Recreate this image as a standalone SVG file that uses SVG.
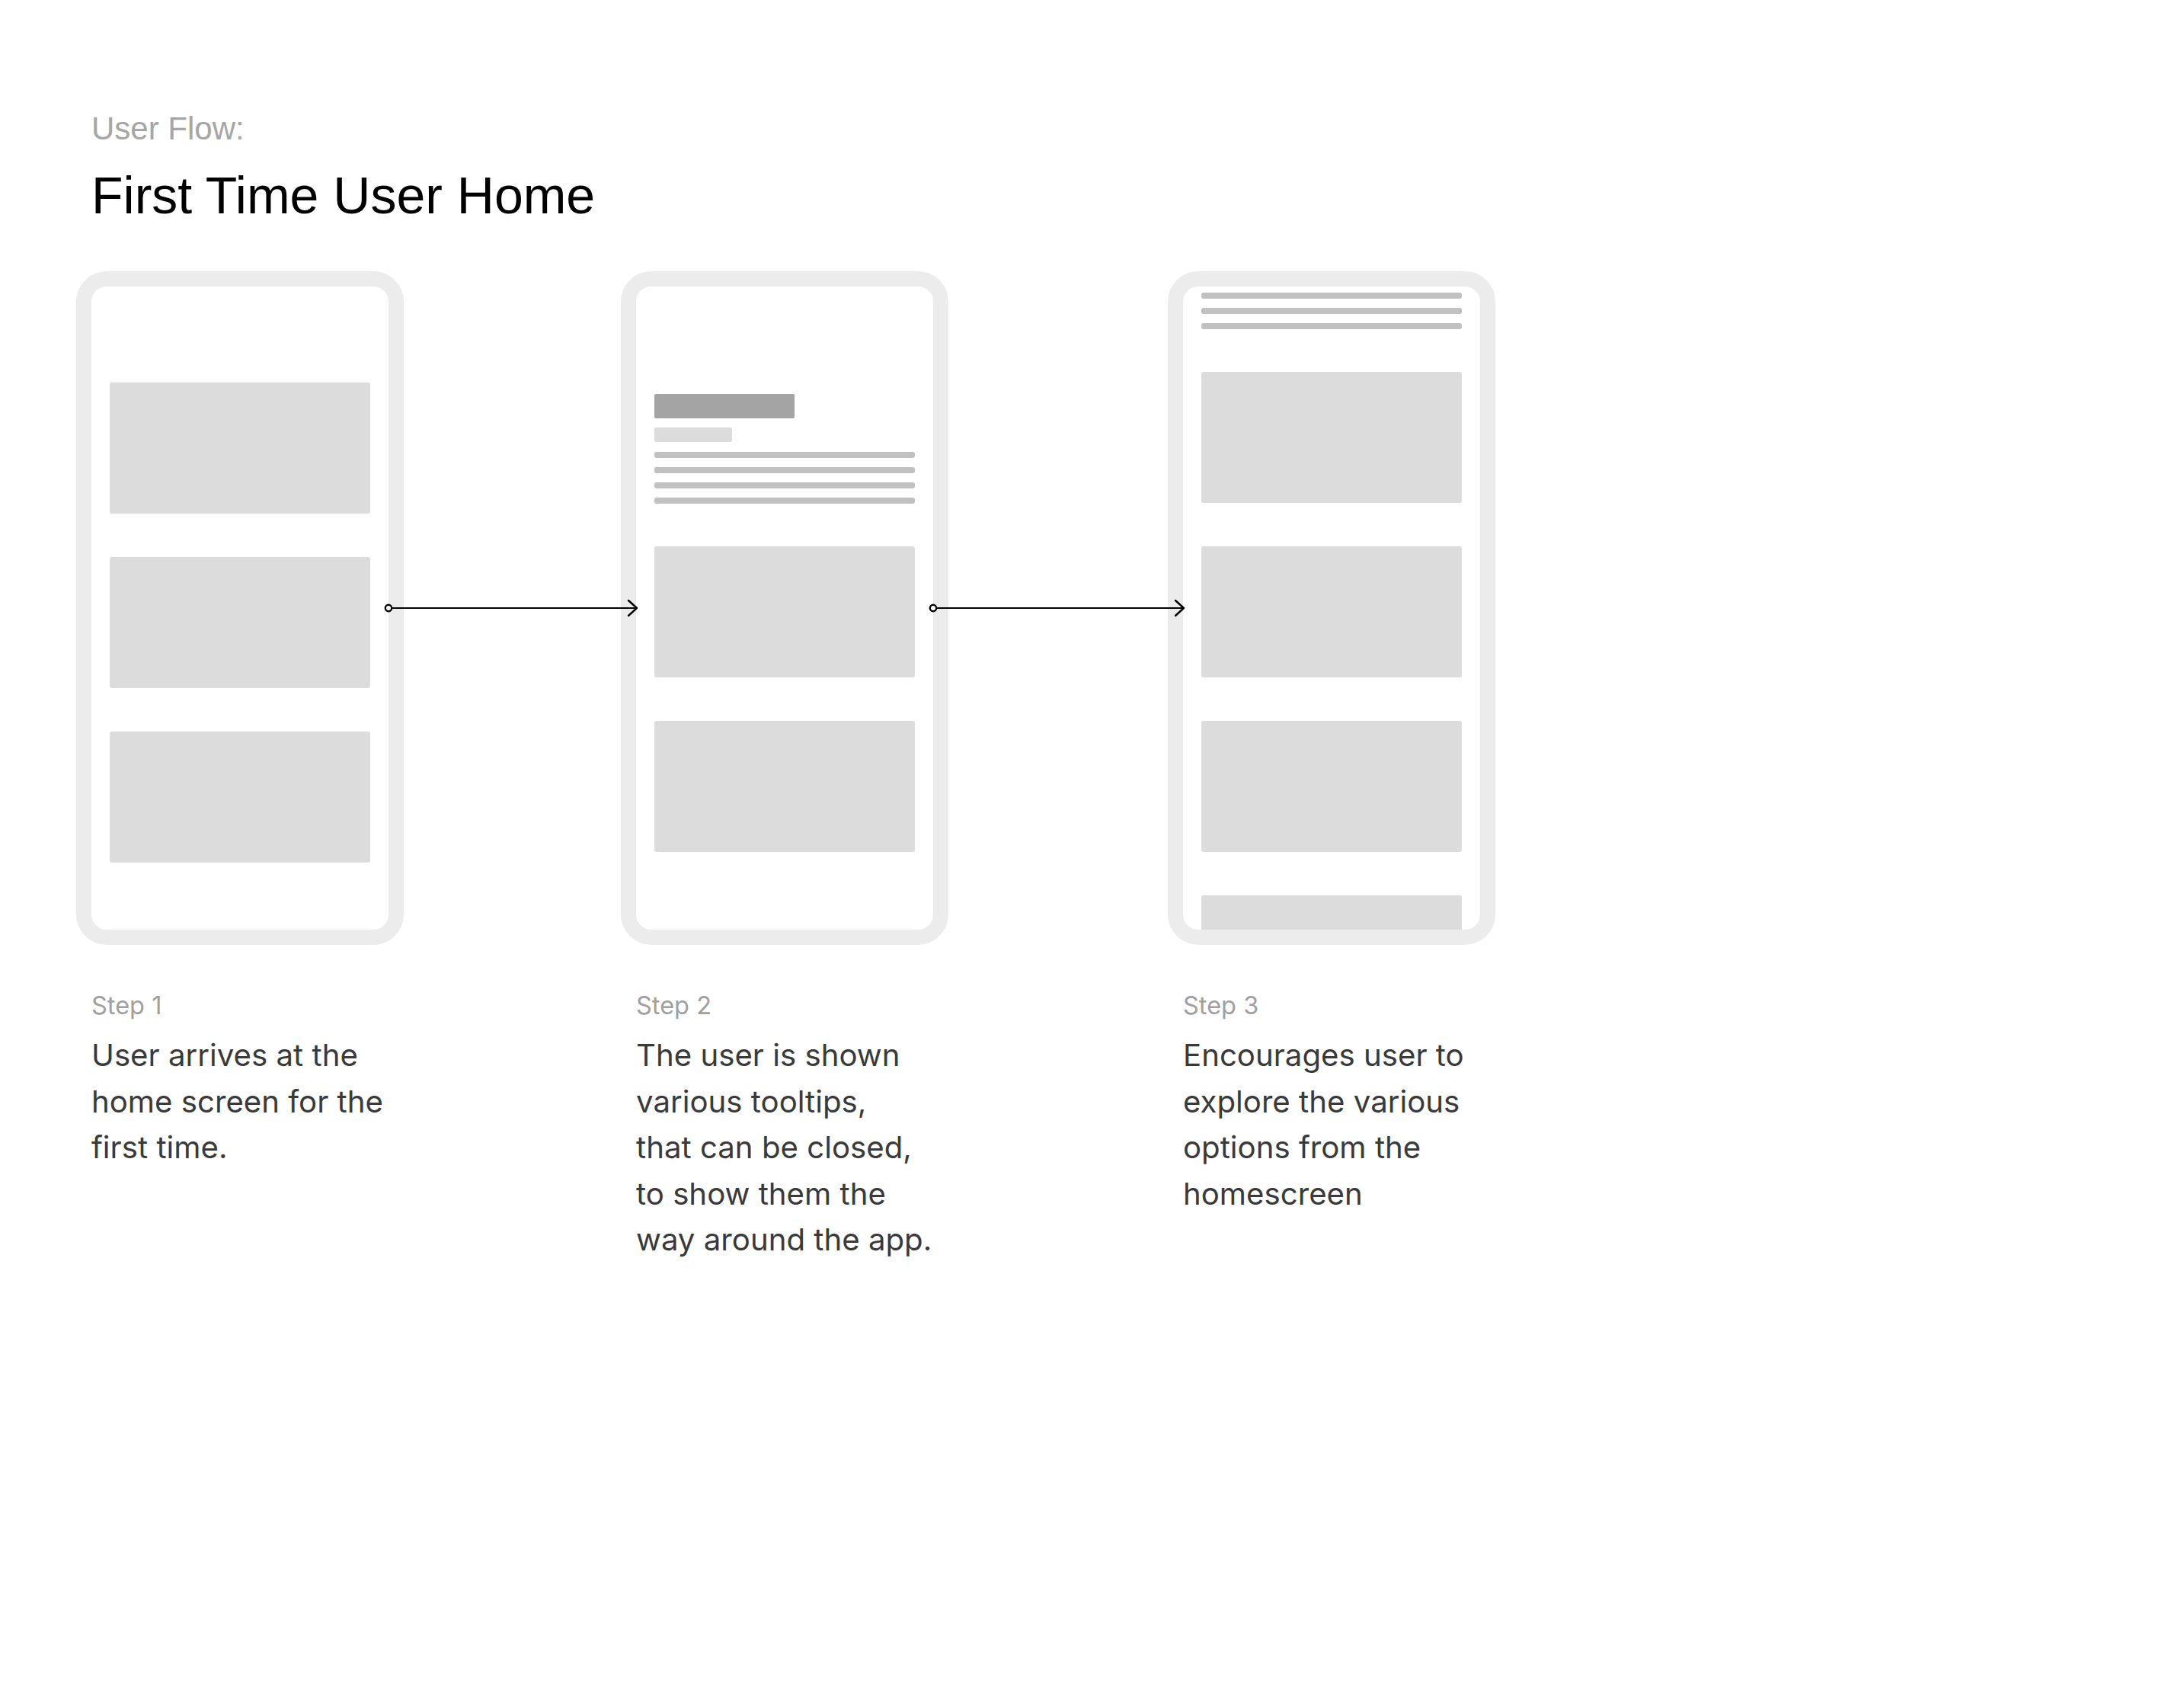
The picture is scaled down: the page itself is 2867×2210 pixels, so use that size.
<svg xmlns="http://www.w3.org/2000/svg" width="2867" height="2210" viewBox="0 0 2867 2210">
  <defs>
    <style>
      .frame { fill: #ffffff; stroke: #ececec; stroke-width: 20; }
      .block { fill: #dcdcdc; }
      .line { fill: #c1c1c1; }
      .bar-dark { fill: #a4a4a4; }
      .bar-light { fill: #dcdcdc; }
      .kicker { font-family: "Liberation Sans", Arial, sans-serif; font-size: 42px; fill: #a6a6a6; }
      .title { font-family: "Liberation Sans", Arial, sans-serif; font-size: 68px; fill: #000000; }
      .step { font-family: Inter, "Noto Sans", sans-serif; font-size: 32.5px; fill: #a0a0a0; }
      .desc { font-family: Inter, "Noto Sans", sans-serif; font-size: 40.2px; fill: #3a3a3a; }
      .conn { fill: none; stroke: #000000; stroke-width: 2.2; }
    </style>
    <marker id="dot" markerUnits="userSpaceOnUse" markerWidth="14" markerHeight="14" viewBox="-7 -7 14 14" refX="0" refY="0" orient="auto">
      <circle cx="0" cy="0" r="4.2" fill="#ffffff" stroke="#000000" stroke-width="2.4"/>
    </marker>
    <marker id="chevron" markerUnits="userSpaceOnUse" markerWidth="18" markerHeight="26" viewBox="-15 -13 18 26" refX="0" refY="0" orient="auto">
      <path d="M-11,-10 L0,0 L-11,10" fill="none" stroke="#000000" stroke-width="2.4" stroke-linecap="round" stroke-linejoin="round"/>
    </marker>
    <clipPath id="screen3">
      <rect x="1553" y="376" width="390" height="844" rx="20"/>
    </clipPath>
  </defs>

  <rect width="2867" height="2210" fill="#ffffff"/>

  <!-- heading -->
  <text class="kicker" x="120" y="183">User Flow:</text>
  <text class="title" x="120" y="280">First Time User Home</text>

  <!-- screen 1: plain home -->
  <g id="step1">
    <rect class="frame" x="110" y="366" width="410" height="864" rx="30"/>
    <rect class="block" x="144" y="502" width="342" height="172" rx="3"/>
    <rect class="block" x="144" y="731" width="342" height="172" rx="3"/>
    <rect class="block" x="144" y="960" width="342" height="172" rx="3"/>
    <text class="step" x="120" y="1331">Step 1</text>
    <text class="desc" x="120" y="1399">User arrives at the</text>
    <text class="desc" x="120" y="1459.5">home screen for the</text>
    <text class="desc" x="120" y="1520">first time.</text>
  </g>

  <!-- screen 2: tooltip over content -->
  <g id="step2">
    <rect class="frame" x="825" y="366" width="410" height="864" rx="30"/>
    <rect class="bar-dark" x="859" y="517" width="184" height="32" rx="2"/>
    <rect class="bar-light" x="859" y="561" width="102" height="19" rx="2"/>
    <rect class="line" x="859" y="593" width="342" height="8" rx="3"/>
    <rect class="line" x="859" y="613" width="342" height="8" rx="3"/>
    <rect class="line" x="859" y="633" width="342" height="8" rx="3"/>
    <rect class="line" x="859" y="653" width="342" height="8" rx="3"/>
    <rect class="block" x="859" y="717" width="342" height="172" rx="3"/>
    <rect class="block" x="859" y="946" width="342" height="172" rx="3"/>
    <text class="step" x="835" y="1331">Step 2</text>
    <text class="desc" x="835" y="1399">The user is shown</text>
    <text class="desc" x="835" y="1459.5">various tooltips,</text>
    <text class="desc" x="835" y="1520">that can be closed,</text>
    <text class="desc" x="835" y="1580.5">to show them the</text>
    <text class="desc" x="835" y="1641">way around the app.</text>
  </g>

  <!-- screen 3: scrolled home -->
  <g id="step3">
    <rect class="frame" x="1543" y="366" width="410" height="864" rx="30"/>
    <g clip-path="url(#screen3)">
      <rect class="line" x="1577" y="384" width="342" height="8" rx="3"/>
      <rect class="line" x="1577" y="404" width="342" height="8" rx="3"/>
      <rect class="line" x="1577" y="424" width="342" height="8" rx="3"/>
      <rect class="block" x="1577" y="488" width="342" height="172" rx="3"/>
      <rect class="block" x="1577" y="717" width="342" height="172" rx="3"/>
      <rect class="block" x="1577" y="946" width="342" height="172" rx="3"/>
      <rect class="block" x="1577" y="1175" width="342" height="172" rx="3"/>
    </g>
    <text class="step" x="1553" y="1331">Step 3</text>
    <text class="desc" x="1553" y="1399">Encourages user to</text>
    <text class="desc" x="1553" y="1459.5">explore the various</text>
    <text class="desc" x="1553" y="1520">options from the</text>
    <text class="desc" x="1553" y="1580.5">homescreen</text>
  </g>

  <!-- transitions -->
  <g id="connectors">
    <path class="conn" d="M510,798 H836" marker-start="url(#dot)" marker-end="url(#chevron)"/>
    <path class="conn" d="M1225,798 H1554" marker-start="url(#dot)" marker-end="url(#chevron)"/>
  </g>
</svg>
